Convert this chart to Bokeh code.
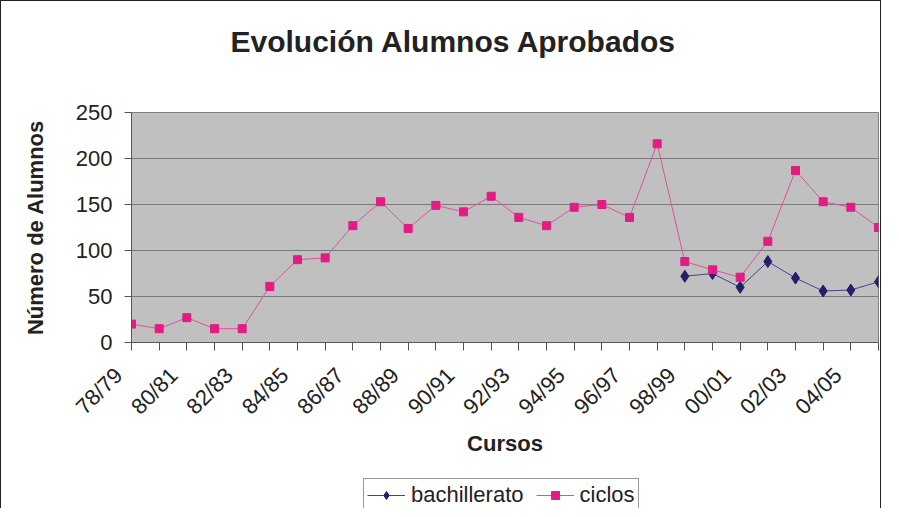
import math
from bokeh.plotting import figure
from bokeh.models import Range1d, FixedTicker, Legend, LegendItem, Title
from bokeh.layouts import column
from bokeh.embed import file_html
from bokeh.resources import INLINE

# ---- data ----
cursos = ["78/79", "79/80", "80/81", "81/82", "82/83", "83/84", "84/85", "85/86",
          "86/87", "87/88", "88/89", "89/90", "90/91", "91/92", "92/93", "93/94",
          "94/95", "95/96", "96/97", "97/98", "98/99", "99/00", "00/01", "01/02",
          "02/03", "03/04", "04/05", "05/06"]
ciclos = [20, 15, 27, 15, 15, 61, 90, 92, 127, 153, 124, 149, 142, 159,
          136, 127, 147, 150, 136, 216, 88, 79, 71, 110, 187, 153, 147, 125]
bachillerato = [None, None, None, None, None, None, None, None, None, None,
                None, None, None, None, None, None, None, None, None, None,
                72, 75, 60, 88, 70, 56, 57, 66]
y_ticks = [0, 50, 100, 150, 200, 250]

x = list(range(len(cursos)))
bach_y = [float("nan") if v is None else v for v in bachillerato]

FONT = "Liberation Sans"
NB = "\u00a0\u00a0\u00a0"
BACH_LINE, BACH_MARK = "#4B3F8F", "#2A1B6B"
CIC_LINE, CIC_MARK = "#E0509A", "#E31C84"

p = figure(width=881, height=477, output_backend="svg", toolbar_location=None,
           x_range=Range1d(0, len(cursos) - 1), y_range=Range1d(0, 250),
           min_border_left=130, min_border_right=4, min_border_top=111,
           min_border_bottom=136, background_fill_color="#C0C0C0",
           border_fill_color="white", title=None)
p.styles = {"border-left": "1px solid #222", "border-top": "1px solid #222",
            "border-right": "1px solid #222"}

# spacer keeps the title well above the plot area
p.add_layout(Title(text="\u00a0", text_font_size="10px", standoff=37), "above")
p.add_layout(Title(text="Evolución Alumnos Aprobados", text_font=FONT,
                   text_font_size="30px", text_font_style="bold",
                   text_color="#222222", align="left", offset=99,
                   standoff=10), "above")

p.outline_line_color = "#808080"
p.xgrid.visible = False
p.ygrid.grid_line_color = "#7A7A7A"
p.ygrid.grid_line_width = 1

# axes
p.xaxis.ticker = FixedTicker(ticks=x)
p.xaxis.major_label_overrides = {i: (c + NB if i % 2 == 0 else "") for i, c in zip(x, cursos)}
p.xaxis.major_label_orientation = math.pi / 4
p.xaxis.axis_label = "Cursos"
p.yaxis.ticker = FixedTicker(ticks=y_ticks)
p.yaxis.axis_label = "Número de Alumnos"
for ax in (p.xaxis[0], p.yaxis[0]):
    ax.major_label_text_font = FONT
    ax.major_label_text_color = "#222222"
    ax.axis_label_text_font = FONT
    ax.axis_label_text_font_style = "bold"
    ax.axis_label_text_font_size = "22px"
    ax.axis_label_text_color = "#222222"
    ax.axis_line_color = "#555555"
    ax.major_tick_line_color = "#555555"
    ax.minor_tick_line_color = None
    ax.major_tick_in = 0
p.xaxis.major_label_text_font_size = "22px"
p.yaxis.major_label_text_font_size = "22px"
p.xaxis.major_tick_out = 8
p.yaxis.major_tick_out = 7
p.yaxis.major_label_standoff = 12
p.yaxis.axis_label_standoff = 25
p.xaxis.major_label_standoff = 8
p.xaxis.axis_label_standoff = 0

# series
p.line(x, bach_y, line_color=BACH_LINE, line_width=1)
p.scatter(x, bach_y, marker="diamond", size=12, fill_color=BACH_MARK,
          line_color=BACH_MARK)
p.line(x, ciclos, line_color=CIC_LINE, line_width=1)
p.scatter(x, ciclos, marker="square", size=8, fill_color=CIC_MARK,
          line_color=CIC_MARK)

# legend strip under the chart (its series lie outside this strip's ranges)
q = figure(width=881, height=31, output_backend="svg", toolbar_location=None,
           x_range=Range1d(0, 1), y_range=Range1d(-2, -1),
           x_axis_type=None, y_axis_type=None,
           min_border_left=0, min_border_right=0, min_border_top=0,
           min_border_bottom=0, background_fill_color="white",
           border_fill_color="white", outline_line_color=None)
q.grid.visible = False
q.styles = {"border-left": "1px solid #222", "border-right": "1px solid #222"}
lb = q.line(x, bach_y, line_color=BACH_LINE, line_width=1)
mb = q.scatter(x, bach_y, marker="diamond", size=12, fill_color=BACH_MARK,
               line_color=BACH_MARK)
lc = q.line(x, ciclos, line_color=CIC_LINE, line_width=1)
mc = q.scatter(x, ciclos, marker="square", size=8, fill_color=CIC_MARK,
               line_color=CIC_MARK)
legend = Legend(items=[LegendItem(label="bachillerato", renderers=[lb, mb]),
                       LegendItem(label="ciclos", renderers=[lc, mc])],
                orientation="horizontal", location=(232, -4),
                label_text_font=FONT, label_text_font_size="22px",
                label_text_color="#222222", glyph_width=38, label_standoff=6,
                spacing=12, padding=3, margin=0,
                border_line_color="#333333", border_line_width=1,
                background_fill_color="white", background_fill_alpha=1)
q.add_layout(legend, "center")

page = column(p, q, spacing=0)
open("out.html", "w").write(file_html(page, INLINE))
